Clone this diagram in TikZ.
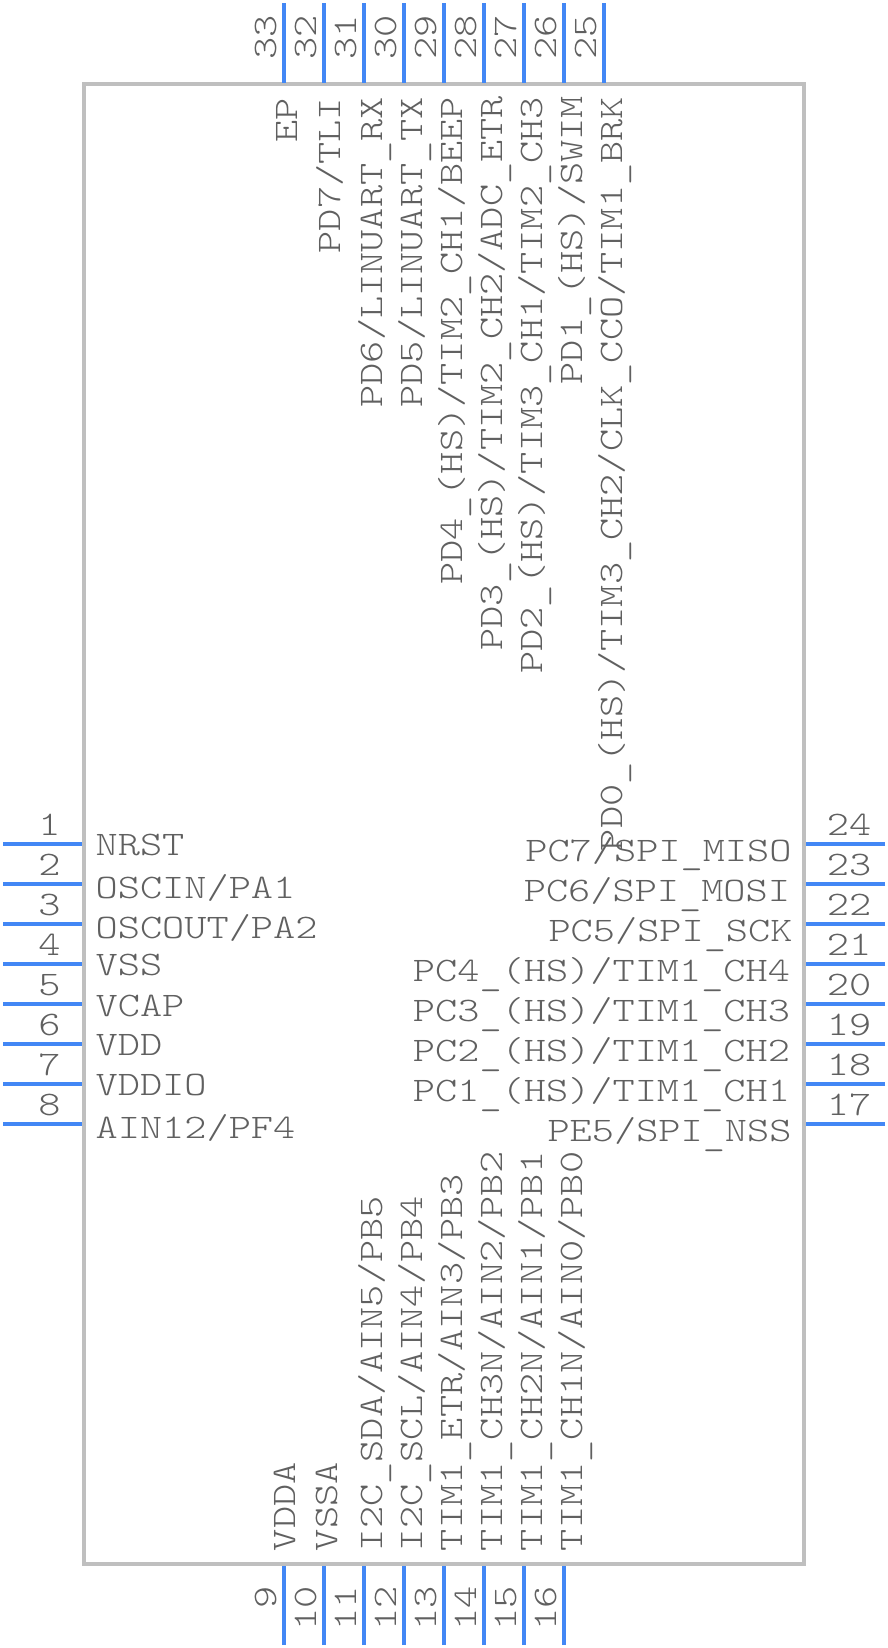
\documentclass[tikz,border=0pt]{standalone}
\usepackage{fontspec}
\newfontfamily\pinfont[FakeStretch=1.228]{Latin Modern Mono Light}
\newcommand\lowbar{\raisebox{-3.5pt}{\_}}
\definecolor{pinblue}{HTML}{4287F5}
\definecolor{bodygray}{HTML}{BFBFBF}
\definecolor{textgray}{HTML}{606060}
\tikzset{
  pinline/.style={draw=pinblue,line width=4pt},
  bodybox/.style={draw=bodygray,line width=3.7pt},
  lbl/.style={inner sep=0pt,outer sep=0pt,text=textgray,font=\pinfont\fontsize{34.4}{38}\selectfont},
  lw/.style={lbl,anchor=base west},
  le/.style={lbl,anchor=base east},
  nc/.style={lbl,anchor=base},
  vw/.style={lbl,anchor=base west,rotate=90},
  ve/.style={lbl,anchor=base east,rotate=90},
}
\begin{document}
\begin{tikzpicture}[x=1pt,y=-1pt]
\useasboundingbox (0,0) rectangle (888,1648);
\node[bodybox,minimum width=719.8pt,minimum height=1480pt,inner sep=0pt,anchor=center] (body) at (444.1,824) {};
% left pins
\foreach \n/\y in {1/843.7,2/883.7,3/923.7,4/963.7,5/1003.7,6/1043.7,7/1083.7,8/1123.7}{
  \coordinate (pa\n) at (3.3,\y); \coordinate (pb\n) at (82,\y);
  \draw[pinline] (pa\n) -- (pb\n);
  \node[nc] (num\n) at (49.5,\y-8.7) {\n};
}
% right pins
\foreach \n/\y in {24/843.7,23/883.7,22/923.7,21/963.7,20/1003.7,19/1043.7,18/1083.7,17/1123.7}{
  \coordinate (pa\n) at (885,\y); \coordinate (pb\n) at (806,\y);
  \draw[pinline] (pa\n) -- (pb\n);
  \node[nc] (num\n) at (849,\y-8.7) {\n};
}
% top pins
\foreach \n/\x in {33/284,32/324,31/364,30/404,29/444,28/484,27/524,26/564,25/604}{
  \coordinate (pa\n) at (\x,3.3); \coordinate (pb\n) at (\x,83);
  \draw[pinline] (pa\n) -- (pb\n);
  \node[ve] (num\n) at (\x-8,15.5) {\n};
}
% bottom pins
\foreach \n/\x in {9/284,10/324,11/364,12/404,13/444,14/484,15/524,16/564}{
  \coordinate (pa\n) at (\x,1645); \coordinate (pb\n) at (\x,1566);
  \draw[pinline] (pa\n) -- (pb\n);
  \node[ve] (num\n) at (\x-8,1586) {\n};
}
% left labels
\node[lw] (l1) at (95.7,855.7) {NRST};
\node[lw] (l2) at (95.7,898.3) {OSCIN/PA1};
\node[lw] (l3) at (95.7,938.3) {OSCOUT/PA2};
\node[lw] (l4) at (95.7,975) {VSS};
\node[lw] (l5) at (95.7,1016) {VCAP};
\node[lw] (l6) at (95.7,1055) {VDD};
\node[lw] (l7) at (95.7,1095) {VDDIO};
\node[lw] (l8) at (95.7,1138.3) {AIN12/PF4};
% right labels
\node[le] (l24) at (791.5,861.3) {PC7/SPI\lowbar MISO};
\node[le] (l23) at (790,901.7) {PC6/SPI\lowbar MOSI};
\node[le] (l22) at (792.5,941.7) {PC5/SPI\lowbar SCK};
\node[le] (l21) at (790,981.7) {PC4\lowbar (HS)/TIM1\lowbar CH4};
\node[le] (l20) at (790,1021.7) {PC3\lowbar (HS)/TIM1\lowbar CH3};
\node[le] (l19) at (790,1061.7) {PC2\lowbar (HS)/TIM1\lowbar CH2};
\node[le] (l18) at (790,1101.7) {PC1\lowbar (HS)/TIM1\lowbar CH1};
\node[le] (l17) at (791.5,1141.7) {PE5/SPI\lowbar NSS};
% top labels
\node[ve] (l33) at (297,98) {EP};
\node[ve] (l32) at (340,98) {PD7/TLI};
\node[ve] (l31) at (382,97) {PD6/LINUART\lowbar RX};
\node[ve] (l30) at (422,97) {PD5/LINUART\lowbar TX};
\node[ve] (l29) at (462,97) {PD4\lowbar (HS)/TIM2\lowbar CH1/BEEP};
\node[ve] (l28) at (502,96) {PD3\lowbar (HS)/TIM2\lowbar CH2/ADC\lowbar ETR};
\node[ve] (l27) at (542,97) {PD2\lowbar (HS)/TIM3\lowbar CH1/TIM2\lowbar CH3};
\node[ve] (l26) at (582,96) {PD1\lowbar (HS)/SWIM};
\node[ve] (l25) at (622,97) {PD0\lowbar (HS)/TIM3\lowbar CH2/CLK\lowbar CCO/TIM1\lowbar BRK};
% bottom labels
\node[vw] (l9) at (295,1551) {VDDA};
\node[vw] (l10) at (337,1551) {VSSA};
\node[vw] (l11) at (382,1551) {I2C\lowbar SDA/AIN5/PB5};
\node[vw] (l12) at (422,1551) {I2C\lowbar SCL/AIN4/PB4};
\node[vw] (l13) at (462,1551) {TIM1\lowbar ETR/AIN3/PB3};
\node[vw] (l14) at (502.7,1551) {TIM1\lowbar CH3N/AIN2/PB2};
\node[vw] (l15) at (542.7,1551) {TIM1\lowbar CH2N/AIN1/PB1};
\node[vw] (l16) at (582.7,1551) {TIM1\lowbar CH1N/AIN0/PB0};
\end{tikzpicture}
\end{document}
